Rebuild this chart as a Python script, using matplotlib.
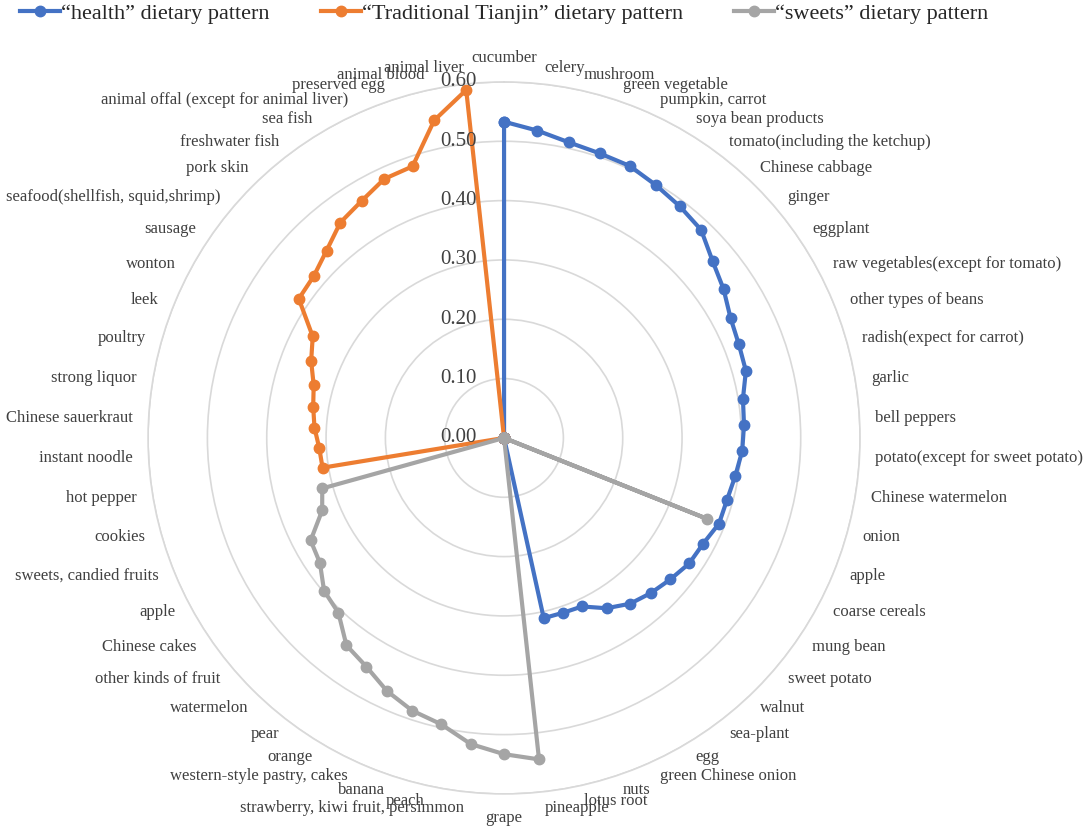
import numpy as np
import matplotlib.pyplot as plt
from matplotlib.lines import Line2D

plt.rcParams['font.family'] = ['Liberation Serif', 'DejaVu Serif']

# categories, clockwise from the top
categories = [
    "cucumber", "celery", "mushroom", "green vegetable", "pumpkin, carrot",
    "soya bean products", "tomato(including the ketchup)", "Chinese cabbage",
    "ginger", "eggplant", "raw vegetables(except for tomato)",
    "other types of beans", "radish(expect for carrot)", "garlic",
    "bell peppers", "potato(except for sweet potato)", "Chinese watermelon",
    "onion", "apple", "coarse cereals", "mung bean", "sweet potato", "walnut",
    "sea-plant", "egg", "green Chinese onion", "nuts", "lotus root",
    "pineapple", "grape", "strawberry, kiwi fruit, persimmon", "peach",
    "banana", "western-style pastry, cakes", "orange", "pear", "watermelon",
    "other kinds of fruit", "Chinese cakes", "apple", "sweets, candied fruits",
    "cookies", "hot pepper", "instant noodle", "Chinese sauerkraut",
    "strong liquor", "poultry", "leek", "wonton", "sausage",
    "seafood(shellfish, squid,shrimp)", "pork skin", "freshwater fish",
    "sea fish", "animal offal (except for animal liver)", "preserved egg",
    "animal blood", "animal liver",
]

health = [0.533, 0.521, 0.510, 0.506, 0.505, 0.497, 0.490, 0.483, 0.461, 0.447,
          0.432, 0.426, 0.423, 0.408, 0.405, 0.402, 0.395, 0.390, 0.390, 0.380,
          0.377, 0.368, 0.360, 0.351, 0.335, 0.313, 0.311, 0.311,
          0, 0, 0, 0, 0, 0, 0, 0, 0, 0, 0, 0, 0, 0, 0, 0, 0, 0, 0, 0, 0, 0,
          0, 0, 0, 0, 0, 0, 0, 0]

tianjin = [0, 0, 0, 0, 0, 0, 0, 0, 0, 0, 0, 0, 0, 0, 0, 0, 0, 0, 0, 0, 0,
           0, 0, 0, 0, 0, 0, 0, 0, 0, 0, 0, 0, 0, 0, 0, 0, 0, 0, 0, 0, 0,
           0.310, 0.312, 0.320, 0.326, 0.333, 0.350, 0.365, 0.418, 0.421,
           0.435, 0.456, 0.466, 0.481, 0.483, 0.548, 0.590]

sweets = [0, 0, 0, 0, 0, 0, 0, 0, 0, 0, 0, 0, 0, 0, 0, 0, 0, 0, 0.368, 0,
          0, 0, 0, 0, 0, 0, 0, 0,
          0.545, 0.533, 0.519, 0.494, 0.485, 0.470, 0.450, 0.439, 0.406,
          0.398, 0.375, 0.369, 0.330, 0.318,
          0, 0, 0, 0, 0, 0, 0, 0, 0, 0, 0, 0, 0, 0, 0, 0]

series_names = ['\u201chealth\u201d dietary pattern',
                '\u201cTraditional Tianjin\u201d dietary pattern',
                '\u201csweets\u201d dietary pattern']
colors = ['#4472C4', '#ED7D31', '#A5A5A5']
rticks = [0.0, 0.1, 0.2, 0.3, 0.4, 0.5, 0.6]

n = len(categories)
theta = np.arange(n) * 2 * np.pi / n

fig = plt.figure(figsize=(10.84, 8.31), dpi=100)
ax = fig.add_axes([0.1366, 0.0446, 0.6568, 0.8568], projection='polar')
ax.set_theta_zero_location('N')
ax.set_theta_direction(-1)
ax.set_ylim(0, 0.6)

for vals, c in zip([health, tianjin, sweets], colors):
    v = np.array(vals + vals[:1])
    t = np.append(theta, theta[0])
    ax.plot(t, v, color=c, lw=3, marker='o', ms=7.5, solid_joinstyle='round')

ax.set_xticks([])
ax.set_yticks(rticks)
ax.set_yticklabels([])
ax.yaxis.grid(True, color='#D9D9D9', lw=1.2)
ax.xaxis.grid(False)
ax.spines['polar'].set_color('#D9D9D9')
ax.spines['polar'].set_linewidth(1.2)

for r in rticks:
    ax.annotate(f'{r:.2f}', xy=(0, r), xytext=(-27, 0), textcoords='offset pixels',
                ha='right', va='center', fontsize=15, color='#404040',
                annotation_clip=False)

r_lab = 0.6 * 372 / 356
for t, name in zip(theta, categories):
    s = np.sin(t)
    c = np.cos(t)
    if s > 0.01:
        ha = 'left'
    elif s < -0.01:
        ha = 'right'
    else:
        ha = 'center'
    if abs(s) < 0.01:
        va = 'bottom' if c > 0 else 'top'
    else:
        va = 'center'
    ax.text(t, r_lab, name, ha=ha, va=va, fontsize=12, color='#404040',
            clip_on=False)

handles = [Line2D([], [], color=c, lw=3, marker='o', ms=7.5) for c in colors]
fig.legend(handles, series_names, loc='upper left', bbox_to_anchor=(0.006, 1.012),
           ncol=3, frameon=False, fontsize=16, handlelength=1.8,
           handletextpad=0.05, columnspacing=2.3, borderpad=0.1,
           labelcolor='#262626')

fig.savefig('out.png', dpi=100)
